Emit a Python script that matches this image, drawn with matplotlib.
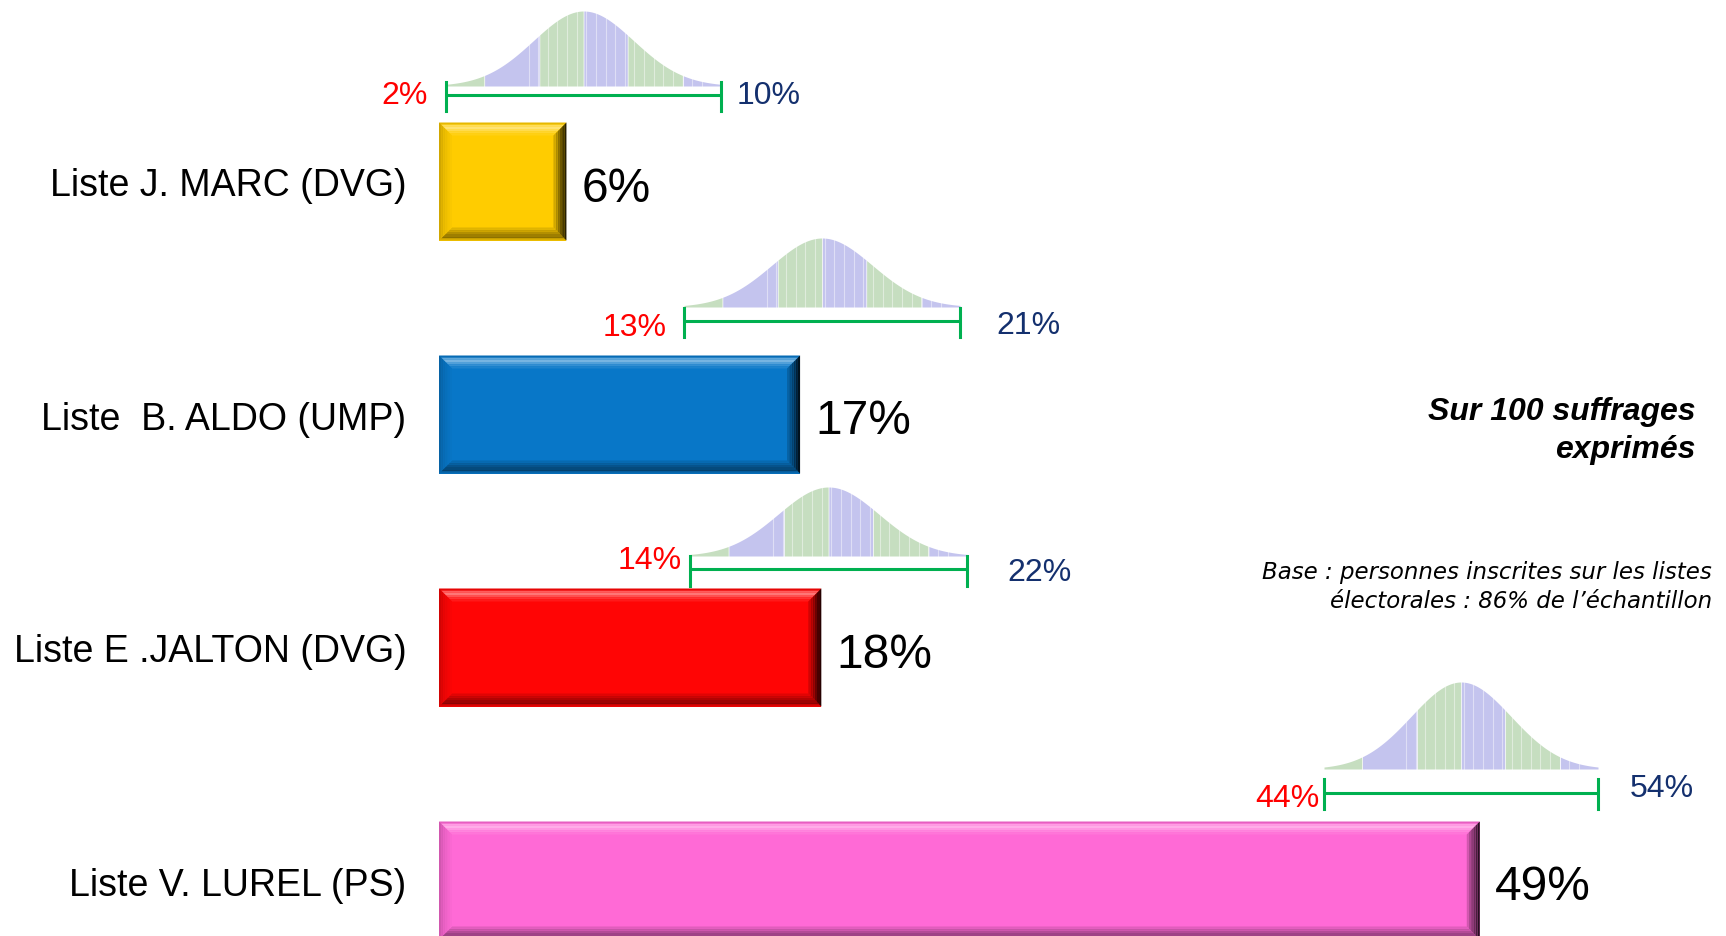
import numpy as np
import matplotlib
matplotlib.use("Agg")
import matplotlib.pyplot as plt
from matplotlib.patches import Polygon
import matplotlib.colors as mcolors

# ---------------- data ----------------
categories = ["Liste J. MARC (DVG)", "Liste  B. ALDO (UMP)",
              "Liste E .JALTON (DVG)", "Liste V. LUREL (PS)"]
values = [6, 17, 18, 49]
low = [2, 13, 14, 44]
high = [10, 21, 22, 54]
value_labels = ["6%", "17%", "18%", "49%"]
low_labels = ["2%", "13%", "14%", "44%"]
high_labels = ["10%", "21%", "22%", "54%"]
bar_colors = ["#ffcc00", "#0877c8", "#ff0505", "#ff6ad6"]

# ---------------- layout ----------------
W, H, DPI = 1726, 937, 100
FONT = "Liberation Sans"
plt.rcParams["font.family"] = [FONT, "DejaVu Sans"]

fig = plt.figure(figsize=(W / DPI, H / DPI), dpi=DPI)
fig.patch.set_facecolor("white")


def fig_rect(x0, y0, x1, y1):
    """pixel box (from top-left) -> figure fraction rect"""
    return [x0 / W, 1 - y1 / H, (x1 - x0) / W, (y1 - y0) / H]


PX_PER_UNIT = 21.24
X0 = 439
ROW0, ROWSTEP = 182.5, 233
BAR_H_PX = 118
BEVEL = 13

ax = fig.add_axes(fig_rect(X0, 0, W, H))
ax.set_xlim(0, (W - X0) / PX_PER_UNIT)
ax.set_ylim((H - ROW0) / ROWSTEP, -ROW0 / ROWSTEP)
for s in ax.spines.values():
    s.set_visible(False)
ax.set_xticks([])
ax.set_facecolor("none")

ypos = np.arange(len(categories))
bars = ax.barh(ypos, values, height=BAR_H_PX / ROWSTEP, color=bar_colors,
               edgecolor="none", zorder=2)

ax.set_yticks(ypos, categories)
ax.tick_params(axis="y", length=0, pad=23.5, labelsize=27)


def shade(c, f):
    r = np.array(mcolors.to_rgb(c))
    if f >= 0:
        return tuple(r + (1 - r) * f)
    return tuple(r * (1 + f))


bx = BEVEL / PX_PER_UNIT
by = BEVEL / ROWSTEP
for b, col in zip(bars, bar_colors):
    x0 = b.get_x()
    x1 = x0 + b.get_width()
    yt = b.get_y()
    yb = yt + b.get_height()
    n = 6
    prof_top = [-0.10, 0.35, 0.45, 0.30, 0.18, 0.08]
    prof_bot = [-0.15, -0.45, -0.38, -0.30, -0.22, -0.12]
    prof_left = [-0.18, -0.14, -0.10, -0.07, -0.04, -0.02]
    prof_right = [-0.85, -0.72, -0.58, -0.45, -0.32, -0.18]
    for k in range(n):
        t0, t1 = k / n, (k + 1) / n
        ax.add_patch(Polygon([(x0 + bx * t0, yt + by * t0), (x1 - bx * t0, yt + by * t0),
                              (x1 - bx * t1, yt + by * t1), (x0 + bx * t1, yt + by * t1)],
                             closed=True, facecolor=shade(col, prof_top[k]),
                             edgecolor="none", zorder=3))
        ax.add_patch(Polygon([(x0 + bx * t0, yb - by * t0), (x1 - bx * t0, yb - by * t0),
                              (x1 - bx * t1, yb - by * t1), (x0 + bx * t1, yb - by * t1)],
                             closed=True, facecolor=shade(col, prof_bot[k]),
                             edgecolor="none", zorder=3))
        ax.add_patch(Polygon([(x0 + bx * t0, yt + by * t0), (x0 + bx * t1, yt + by * t1),
                              (x0 + bx * t1, yb - by * t1), (x0 + bx * t0, yb - by * t0)],
                             closed=True, facecolor=shade(col, prof_left[k]),
                             edgecolor="none", zorder=3))
        ax.add_patch(Polygon([(x1 - bx * t0, yt + by * t0), (x1 - bx * t1, yt + by * t1),
                              (x1 - bx * t1, yb - by * t1), (x1 - bx * t0, yb - by * t0)],
                             closed=True, facecolor=shade(col, prof_right[k]),
                             edgecolor="none", zorder=3))

for i, (v, lab) in enumerate(zip(values, value_labels)):
    ax.annotate(lab, xy=(v, i), xytext=(15, -19), textcoords="offset pixels",
                ha="left", va="baseline", fontsize=34.5, color="black", zorder=4)

# ---------------- confidence intervals ----------------
tick_left_px = [446, 684, 690, 1324]
tick_right_px = [721, 960, 967, 1598]
line_y_px = [96, 322, 570, 794]
tick_top_px = [83, 309, 557, 780]
tick_bot_px = [112, 338, 587, 810]
bell_base_px = [87, 308, 557, 770]
bell_peak_px = [12, 239, 488, 683]
low_base_px = [104, 336, 569, 807]
high_base_px = [104, 334, 581, 797]
low_gap_px = [18, 17, 8, 5]
high_gap_px = [16, 36, 40, 32]

GREEN = "#00b050"
RED = "#ff0000"
NAVY = "#14306e"
STRIPE_A = "#c4c4ee"   # lavender
STRIPE_B = "#c6dec0"   # light green
band_edges = [0.0, 0.14, 0.34, 0.50, 0.66, 0.86, 1.0]
band_cols = [STRIPE_B, STRIPE_A, STRIPE_B, STRIPE_A, STRIPE_B, STRIPE_A]

for i in range(len(values)):
    top = min(bell_peak_px[i], tick_top_px[i]) - 2
    bot = tick_bot_px[i]
    iax = fig.add_axes(fig_rect(tick_left_px[i], top, tick_right_px[i], bot))
    iax.set_xlim(low[i], high[i])
    iax.set_ylim(bot, top)
    iax.axis("off")

    lo, hi = low[i], high[i]
    mid = values[i]
    sigma = (hi - lo) / 5.5
    xs = np.linspace(lo, hi, 400)
    ys = bell_base_px[i] - (bell_base_px[i] - bell_peak_px[i]) * np.exp(-0.5 * ((xs - mid) / sigma) ** 2)
    frac = (xs - lo) / (hi - lo)
    for k in range(len(band_cols)):
        m = (frac >= band_edges[k]) & (frac <= band_edges[k + 1])
        iax.fill_between(xs[m], ys[m], bell_base_px[i], color=band_cols[k],
                         linewidth=0, clip_on=False)
    for f in np.arange(0.30, 0.95, 0.035):
        xv = lo + f * (hi - lo)
        yv = bell_base_px[i] - (bell_base_px[i] - bell_peak_px[i]) * np.exp(-0.5 * ((xv - mid) / sigma) ** 2)
        iax.plot([xv, xv], [bell_base_px[i], yv], color="white", lw=0.8, alpha=0.45,
                 clip_on=False)

    iax.plot([lo, hi], [line_y_px[i], line_y_px[i]], color=GREEN, lw=2.2,
             solid_capstyle="butt", clip_on=False)
    iax.plot([lo, lo], [tick_top_px[i], tick_bot_px[i]], color=GREEN, lw=2.2, clip_on=False)
    iax.plot([hi, hi], [tick_top_px[i], tick_bot_px[i]], color=GREEN, lw=2.2, clip_on=False)

    iax.annotate(low_labels[i], xy=(lo, low_base_px[i]), xytext=(-low_gap_px[i], 0),
                 textcoords="offset pixels", ha="right", va="baseline",
                 fontsize=23, color=RED, annotation_clip=False)
    iax.annotate(high_labels[i], xy=(hi, high_base_px[i]), xytext=(high_gap_px[i], 0),
                 textcoords="offset pixels", ha="left", va="baseline",
                 fontsize=23, color=NAVY, annotation_clip=False)

# ---------------- side notes ----------------
fig.text(1695 / W, 1 - 420 / H, "Sur 100 suffrages", ha="right", va="baseline",
         fontsize=23, fontweight="bold", fontstyle="italic", color="black")
fig.text(1695 / W, 1 - 458 / H, "exprimés", ha="right", va="baseline",
         fontsize=23, fontweight="bold", fontstyle="italic", color="black")
fig.text(1712 / W, 1 - 579 / H, "Base : personnes inscrites sur les listes",
         ha="right", va="baseline", fontsize=16.5, fontstyle="italic",
         family=["DejaVu Sans"], color="black")
fig.text(1712 / W, 1 - 608 / H, "électorales : 86% de l’échantillon",
         ha="right", va="baseline", fontsize=16.5, fontstyle="italic",
         family=["DejaVu Sans"], color="black")

fig.savefig("out.png", dpi=DPI, facecolor="white")
